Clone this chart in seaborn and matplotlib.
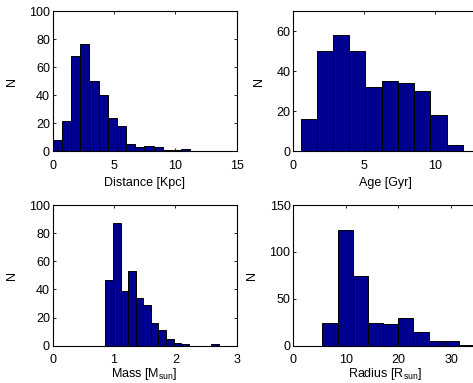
import numpy as np
import pandas as pd
import seaborn as sns
import matplotlib.pyplot as plt

sns.set_style("ticks")
plt.rcParams['font.family'] = ['Liberation Sans', 'DejaVu Sans']
plt.rcParams['mathtext.fontset'] = 'custom'
plt.rcParams['mathtext.rm'] = 'Liberation Sans'
plt.rcParams['text.color'] = 'black'
plt.rcParams['axes.labelcolor'] = 'black'
plt.rcParams['xtick.color'] = 'black'
plt.rcParams['ytick.color'] = 'black'
plt.rcParams['axes.edgecolor'] = 'black'

# counts per bin
dist_counts = [8, 22, 68, 77, 50, 40, 24, 18, 5, 3, 4, 3, 1, 1, 2, 0, 0, 0, 0, 0]
dist_range = (0.0, 14.95)
age_counts = [16, 50, 58, 50, 32, 35, 34, 30, 18, 3]
age_range = (0.51, 11.98)
mass_counts = [47, 87, 39, 53, 34, 29, 16, 11, 5, 2, 1, 0, 0, 0, 1]
mass_range = (0.86, 2.71)
radius_counts = [24, 123, 74, 24, 23, 29, 15, 5, 5, 1]
radius_range = (5.52, 34.4)

panels = [
    (dist_counts, dist_range, "Distance [Kpc]", (0, 15), (0, 100), [0, 5, 10, 15], [0, 20, 40, 60, 80, 100]),
    (age_counts, age_range, "Age [Gyr]", (0, 13), (0, 70), [0, 5, 10], [0, 20, 40, 60]),
    (mass_counts, mass_range, r"Mass [M$_{\rm sun}$]", (0, 3), (0, 100), [0, 1, 2, 3], [0, 20, 40, 60, 80, 100]),
    (radius_counts, radius_range, r"Radius [R$_{\rm sun}$]", (0, 35), (0, 150), [0, 10, 20, 30], [0, 50, 100, 150]),
]

W, H = 473, 383
fig = plt.figure(figsize=(W / 100, H / 100), dpi=100)
# left, top, bottom in pixels; label pad under the x axis
boxes = [(52.7, 11.5, 151.5, 4), (293.3, 11.5, 151.5, 4),
         (52.7, 205, 345.7, 0), (293.3, 205, 345.7, 0)]

for (counts, rng, xlabel, xlim, ylim, xt, yt), (l, t, b, lp) in zip(panels, boxes):
    ax = fig.add_axes([l / W, 1 - b / H, 184 / W, (b - t) / H])
    n = len(counts)
    edges = np.linspace(rng[0], rng[1], n + 1)
    df = pd.DataFrame({"x": (edges[:-1] + edges[1:]) / 2, "w": counts})
    sns.histplot(data=df, x="x", weights="w", bins=n, binrange=rng, ax=ax,
                 color="#00008F", edgecolor="black", linewidth=0.7, alpha=1)
    ax.set_xlim(*xlim)
    ax.set_ylim(*ylim)
    ax.set_xticks(xt)
    ax.set_yticks(yt)
    ax.set_xlabel(xlabel, fontsize=9, labelpad=lp)
    ax.set_ylabel("N", fontsize=9, labelpad=8)
    ax.tick_params(direction="in", top=True, right=True, length=2.5, width=0.6,
                   labelsize=9, pad=2)
    ax.tick_params(axis="x", pad=6)
    for s in ax.spines.values():
        s.set_linewidth(0.8)
        s.set_visible(True)

fig.savefig("out.png", dpi=100)
